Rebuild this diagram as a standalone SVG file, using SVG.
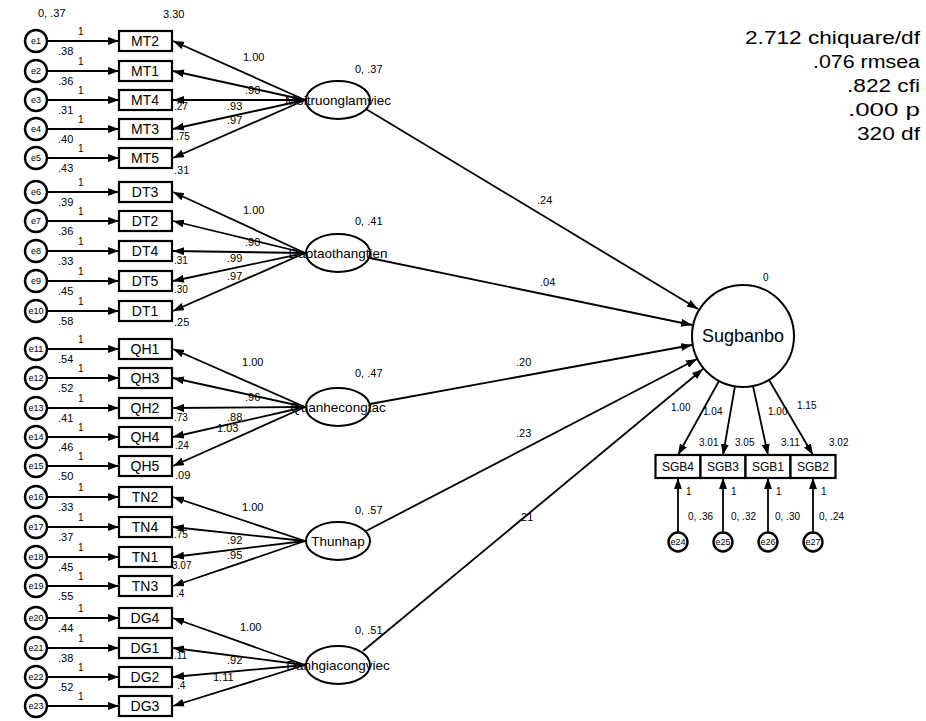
<svg xmlns="http://www.w3.org/2000/svg" width="926" height="721" viewBox="0 0 926 721">
<defs>
<marker id="ah" markerUnits="userSpaceOnUse" markerWidth="11" markerHeight="8" refX="11" refY="4" orient="auto"><path d="M0,0 L11,4 L0,8 z" fill="#000"/></marker>
<style>
text{font-family:"Liberation Sans",Arial,sans-serif;fill:#000}
.box{fill:#fff;stroke:#000;stroke-width:2.2}
.err{fill:#fff;stroke:#000;stroke-width:2.4}
.lat{fill:#fff;stroke:#000;stroke-width:2}
.ln{stroke:#000;stroke-width:1.8;fill:none;marker-end:url(#ah)}
.t{font-size:11px}
.s{font-size:10px}
.bx{font-size:14px;text-anchor:middle}
.e{font-size:9px;text-anchor:middle}
.lv{font-size:13.5px;text-anchor:middle}
.fit{font-size:18px;text-anchor:end}
</style>
</defs>
<rect width="926" height="721" fill="#fff"/>

<g id="fit">
<text class="fit" x="920" y="44" textLength="175" lengthAdjust="spacingAndGlyphs">2.712 chiquare/df</text>
<text class="fit" x="920" y="68" textLength="107" lengthAdjust="spacingAndGlyphs">.076 rmsea</text>
<text class="fit" x="920" y="92" textLength="73" lengthAdjust="spacingAndGlyphs">.822 cfi</text>
<text class="fit" x="920" y="116" textLength="72" lengthAdjust="spacingAndGlyphs">.000 p</text>
<text class="fit" x="920" y="140" textLength="63" lengthAdjust="spacingAndGlyphs">320 df</text>
</g>

<!-- error nodes -->
<g id="e1"><circle class="err" cx="36" cy="41" r="11"/><text class="e" x="36" y="44">e1</text></g>
<g id="e2"><circle class="err" cx="36" cy="71" r="11"/><text class="e" x="36" y="74">e2</text></g>
<g id="e3"><circle class="err" cx="36" cy="100" r="11"/><text class="e" x="36" y="103">e3</text></g>
<g id="e4"><circle class="err" cx="36" cy="129" r="11"/><text class="e" x="36" y="132">e4</text></g>
<g id="e5"><circle class="err" cx="36" cy="158" r="11"/><text class="e" x="36" y="161">e5</text></g>
<g id="e6"><circle class="err" cx="36" cy="192" r="11"/><text class="e" x="36" y="195">e6</text></g>
<g id="e7"><circle class="err" cx="36" cy="221" r="11"/><text class="e" x="36" y="224">e7</text></g>
<g id="e8"><circle class="err" cx="36" cy="251" r="11"/><text class="e" x="36" y="254">e8</text></g>
<g id="e9"><circle class="err" cx="36" cy="281" r="11"/><text class="e" x="36" y="284">e9</text></g>
<g id="e10"><circle class="err" cx="36" cy="311" r="11"/><text class="e" x="36" y="314">e10</text></g>
<g id="e11"><circle class="err" cx="36" cy="349" r="11"/><text class="e" x="36" y="352">e11</text></g>
<g id="e12"><circle class="err" cx="36" cy="378" r="11"/><text class="e" x="36" y="381">e12</text></g>
<g id="e13"><circle class="err" cx="36" cy="408" r="11"/><text class="e" x="36" y="411">e13</text></g>
<g id="e14"><circle class="err" cx="36" cy="437" r="11"/><text class="e" x="36" y="440">e14</text></g>
<g id="e15"><circle class="err" cx="36" cy="466" r="11"/><text class="e" x="36" y="469">e15</text></g>
<g id="e16"><circle class="err" cx="36" cy="497" r="11"/><text class="e" x="36" y="500">e16</text></g>
<g id="e17"><circle class="err" cx="36" cy="527" r="11"/><text class="e" x="36" y="530">e17</text></g>
<g id="e18"><circle class="err" cx="36" cy="557" r="11"/><text class="e" x="36" y="560">e18</text></g>
<g id="e19"><circle class="err" cx="36" cy="586" r="11"/><text class="e" x="36" y="589">e19</text></g>
<g id="e20"><circle class="err" cx="36" cy="618" r="11"/><text class="e" x="36" y="621">e20</text></g>
<g id="e21"><circle class="err" cx="36" cy="648" r="11"/><text class="e" x="36" y="651">e21</text></g>
<g id="e22"><circle class="err" cx="36" cy="677" r="11"/><text class="e" x="36" y="680">e22</text></g>
<g id="e23"><circle class="err" cx="36" cy="706" r="11"/><text class="e" x="36" y="709">e23</text></g>

<!-- indicator boxes -->
<g id="MT2"><rect class="box" x="119" y="31" width="53" height="20"/><text class="bx" x="145" y="46">MT2</text></g>
<g id="MT1"><rect class="box" x="119" y="61" width="53" height="20"/><text class="bx" x="145" y="76">MT1</text></g>
<g id="MT4"><rect class="box" x="119" y="90" width="53" height="20"/><text class="bx" x="145" y="105">MT4</text></g>
<g id="MT3"><rect class="box" x="119" y="119" width="53" height="20"/><text class="bx" x="145" y="134">MT3</text></g>
<g id="MT5"><rect class="box" x="119" y="148" width="53" height="20"/><text class="bx" x="145" y="163">MT5</text></g>
<g id="DT3"><rect class="box" x="119" y="182" width="53" height="20"/><text class="bx" x="145" y="197">DT3</text></g>
<g id="DT2"><rect class="box" x="119" y="211" width="53" height="20"/><text class="bx" x="145" y="226">DT2</text></g>
<g id="DT4"><rect class="box" x="119" y="241" width="53" height="20"/><text class="bx" x="145" y="256">DT4</text></g>
<g id="DT5"><rect class="box" x="119" y="271" width="53" height="20"/><text class="bx" x="145" y="286">DT5</text></g>
<g id="DT1"><rect class="box" x="119" y="301" width="53" height="20"/><text class="bx" x="145" y="316">DT1</text></g>
<g id="QH1"><rect class="box" x="119" y="339" width="53" height="20"/><text class="bx" x="145" y="354">QH1</text></g>
<g id="QH3"><rect class="box" x="119" y="368" width="53" height="20"/><text class="bx" x="145" y="383">QH3</text></g>
<g id="QH2"><rect class="box" x="119" y="398" width="53" height="20"/><text class="bx" x="145" y="413">QH2</text></g>
<g id="QH4"><rect class="box" x="119" y="427" width="53" height="20"/><text class="bx" x="145" y="442">QH4</text></g>
<g id="QH5"><rect class="box" x="119" y="456" width="53" height="20"/><text class="bx" x="145" y="471">QH5</text></g>
<g id="TN2"><rect class="box" x="119" y="487" width="53" height="20"/><text class="bx" x="145" y="502">TN2</text></g>
<g id="TN4"><rect class="box" x="119" y="517" width="53" height="20"/><text class="bx" x="145" y="532">TN4</text></g>
<g id="TN1"><rect class="box" x="119" y="547" width="53" height="20"/><text class="bx" x="145" y="562">TN1</text></g>
<g id="TN3"><rect class="box" x="119" y="576" width="53" height="20"/><text class="bx" x="145" y="591">TN3</text></g>
<g id="DG4"><rect class="box" x="119" y="608" width="53" height="20"/><text class="bx" x="145" y="623">DG4</text></g>
<g id="DG1"><rect class="box" x="119" y="638" width="53" height="20"/><text class="bx" x="145" y="653">DG1</text></g>
<g id="DG2"><rect class="box" x="119" y="667" width="53" height="20"/><text class="bx" x="145" y="682">DG2</text></g>
<g id="DG3"><rect class="box" x="119" y="696" width="53" height="20"/><text class="bx" x="145" y="711">DG3</text></g>

<!-- latent nodes -->
<g id="Moitruonglamviec"><ellipse class="lat" cx="338" cy="100" rx="32" ry="19"/><text class="lv" x="338" y="105">Moitruonglamviec</text></g>
<g id="Daotaothangtien"><ellipse class="lat" cx="338" cy="253" rx="32" ry="19"/><text class="lv" x="338" y="258">Daotaothangtien</text></g>
<g id="Quanhecongtac"><ellipse class="lat" cx="338" cy="407" rx="32" ry="19"/><text class="lv" x="338" y="412">Quanhecongtac</text></g>
<g id="Thunhap"><ellipse class="lat" cx="338" cy="541" rx="32" ry="19"/><text class="lv" x="338" y="546">Thunhap</text></g>
<g id="Danhgiacongviec"><ellipse class="lat" cx="338" cy="665" rx="32" ry="19"/><text class="lv" x="338" y="670">Danhgiacongviec</text></g>

<g id="Sugbanbo"><circle class="lat" cx="743" cy="336" r="51"/><text x="743" y="342" style="font-size:18px;text-anchor:middle">Sugbanbo</text></g>

<g id="SGB4"><rect class="box" x="655.5" y="455" width="45" height="23"/><text x="678" y="471" style="font-size:12px;text-anchor:middle">SGB4</text></g>
<g id="SGB3"><rect class="box" x="700.5" y="455" width="45" height="23"/><text x="723" y="471" style="font-size:12px;text-anchor:middle">SGB3</text></g>
<g id="SGB1"><rect class="box" x="745.5" y="455" width="45" height="23"/><text x="768" y="471" style="font-size:12px;text-anchor:middle">SGB1</text></g>
<g id="SGB2"><rect class="box" x="790.5" y="455" width="45" height="23"/><text x="813" y="471" style="font-size:12px;text-anchor:middle">SGB2</text></g>

<g id="e24"><circle class="err" cx="678" cy="542" r="9.5"/><text class="e" x="678" y="545">e24</text></g>
<g id="e25"><circle class="err" cx="723" cy="542" r="9.5"/><text class="e" x="723" y="545">e25</text></g>
<g id="e26"><circle class="err" cx="768" cy="542" r="9.5"/><text class="e" x="768" y="545">e26</text></g>
<g id="e27"><circle class="err" cx="813" cy="542" r="9.5"/><text class="e" x="813" y="545">e27</text></g>

<!-- connectors -->
<g id="connectors">
<line class="ln" x1="47" y1="41" x2="119" y2="41"/>
<line class="ln" x1="47" y1="71" x2="119" y2="71"/>
<line class="ln" x1="47" y1="100" x2="119" y2="100"/>
<line class="ln" x1="47" y1="129" x2="119" y2="129"/>
<line class="ln" x1="47" y1="158" x2="119" y2="158"/>
<line class="ln" x1="47" y1="192" x2="119" y2="192"/>
<line class="ln" x1="47" y1="221" x2="119" y2="221"/>
<line class="ln" x1="47" y1="251" x2="119" y2="251"/>
<line class="ln" x1="47" y1="281" x2="119" y2="281"/>
<line class="ln" x1="47" y1="311" x2="119" y2="311"/>
<line class="ln" x1="47" y1="349" x2="119" y2="349"/>
<line class="ln" x1="47" y1="378" x2="119" y2="378"/>
<line class="ln" x1="47" y1="408" x2="119" y2="408"/>
<line class="ln" x1="47" y1="437" x2="119" y2="437"/>
<line class="ln" x1="47" y1="466" x2="119" y2="466"/>
<line class="ln" x1="47" y1="497" x2="119" y2="497"/>
<line class="ln" x1="47" y1="527" x2="119" y2="527"/>
<line class="ln" x1="47" y1="557" x2="119" y2="557"/>
<line class="ln" x1="47" y1="586" x2="119" y2="586"/>
<line class="ln" x1="47" y1="618" x2="119" y2="618"/>
<line class="ln" x1="47" y1="648" x2="119" y2="648"/>
<line class="ln" x1="47" y1="677" x2="119" y2="677"/>
<line class="ln" x1="47" y1="706" x2="119" y2="706"/>

<line class="ln" x1="305" y1="100" x2="173" y2="41"/>
<line class="ln" x1="305" y1="100" x2="173" y2="71"/>
<line class="ln" x1="305" y1="100" x2="173" y2="100"/>
<line class="ln" x1="305" y1="100" x2="173" y2="129"/>
<line class="ln" x1="305" y1="100" x2="173" y2="158"/>
<line class="ln" x1="305" y1="253" x2="173" y2="192"/>
<line class="ln" x1="305" y1="253" x2="173" y2="221"/>
<line class="ln" x1="305" y1="253" x2="173" y2="251"/>
<line class="ln" x1="305" y1="253" x2="173" y2="281"/>
<line class="ln" x1="305" y1="253" x2="173" y2="311"/>
<line class="ln" x1="305" y1="407" x2="173" y2="349"/>
<line class="ln" x1="305" y1="407" x2="173" y2="378"/>
<line class="ln" x1="305" y1="407" x2="173" y2="408"/>
<line class="ln" x1="305" y1="407" x2="173" y2="437"/>
<line class="ln" x1="305" y1="407" x2="173" y2="466"/>
<line class="ln" x1="305" y1="541" x2="173" y2="497"/>
<line class="ln" x1="305" y1="541" x2="173" y2="527"/>
<line class="ln" x1="305" y1="541" x2="173" y2="557"/>
<line class="ln" x1="305" y1="541" x2="173" y2="586"/>
<line class="ln" x1="305" y1="665" x2="173" y2="618"/>
<line class="ln" x1="305" y1="665" x2="173" y2="648"/>
<line class="ln" x1="305" y1="665" x2="173" y2="677"/>
<line class="ln" x1="305" y1="665" x2="173" y2="706"/>

<line class="ln" x1="366" y1="109" x2="698" y2="309"/>
<line class="ln" x1="370" y1="258" x2="692" y2="325"/>
<line class="ln" x1="370" y1="404" x2="692" y2="345"/>
<line class="ln" x1="366" y1="531" x2="697" y2="359"/>
<line class="ln" x1="363" y1="651" x2="703" y2="369"/>

<line class="ln" x1="719" y1="381" x2="678" y2="455"/>
<line class="ln" x1="735" y1="386" x2="723" y2="455"/>
<line class="ln" x1="753" y1="386" x2="768" y2="455"/>
<line class="ln" x1="769" y1="380" x2="813" y2="455"/>

<line class="ln" x1="678" y1="532" x2="678" y2="478"/>
<line class="ln" x1="723" y1="532" x2="723" y2="478"/>
<line class="ln" x1="768" y1="532" x2="768" y2="478"/>
<line class="ln" x1="813" y1="532" x2="813" y2="478"/>
</g>

<!-- labels -->
<g id="labels">
<text class="t" x="38" y="17">0, .37</text>
<text class="t" x="163" y="18">3.30</text>
<text class="s" x="78" y="35">1</text>
<text class="s" x="78" y="65">1</text>
<text class="s" x="78" y="94">1</text>
<text class="s" x="78" y="123">1</text>
<text class="s" x="78" y="152">1</text>
<text class="s" x="78" y="186">1</text>
<text class="s" x="78" y="215">1</text>
<text class="s" x="78" y="245">1</text>
<text class="s" x="78" y="275">1</text>
<text class="s" x="78" y="305">1</text>
<text class="s" x="78" y="343">1</text>
<text class="s" x="78" y="372">1</text>
<text class="s" x="78" y="402">1</text>
<text class="s" x="78" y="431">1</text>
<text class="s" x="78" y="460">1</text>
<text class="s" x="78" y="491">1</text>
<text class="s" x="78" y="521">1</text>
<text class="s" x="78" y="551">1</text>
<text class="s" x="78" y="580">1</text>
<text class="s" x="78" y="612">1</text>
<text class="s" x="78" y="642">1</text>
<text class="s" x="78" y="671">1</text>
<text class="s" x="78" y="700">1</text>

<text class="t" x="58" y="55">.38</text>
<text class="t" x="58" y="85">.36</text>
<text class="t" x="58" y="114">.31</text>
<text class="t" x="58" y="143">.40</text>
<text class="t" x="58" y="172">.43</text>
<text class="t" x="58" y="206">.39</text>
<text class="t" x="58" y="235">.36</text>
<text class="t" x="58" y="265">.33</text>
<text class="t" x="58" y="295">.45</text>
<text class="t" x="58" y="325">.58</text>
<text class="t" x="58" y="363">.54</text>
<text class="t" x="58" y="392">.52</text>
<text class="t" x="58" y="422">.41</text>
<text class="t" x="58" y="451">.46</text>
<text class="t" x="58" y="480">.50</text>
<text class="t" x="58" y="511">.33</text>
<text class="t" x="58" y="541">.37</text>
<text class="t" x="58" y="571">.45</text>
<text class="t" x="58" y="600">.55</text>
<text class="t" x="58" y="632">.44</text>
<text class="t" x="58" y="662">.38</text>
<text class="t" x="58" y="691">.52</text>

<text class="s" x="174" y="110">.27</text>
<text class="s" x="176" y="140">.75</text>
<text class="t" x="174" y="174">.31</text>
<text class="s" x="174" y="264">.31</text>
<text class="s" x="174" y="293">.30</text>
<text class="t" x="174" y="326">.25</text>
<text class="s" x="174" y="421">.73</text>
<text class="s" x="175" y="449">.24</text>
<text class="t" x="175" y="479">.09</text>
<text class="s" x="174" y="538">.75</text>
<text class="s" x="172" y="569">3.07</text>
<text class="s" x="176" y="597">.4</text>
<text class="s" x="174" y="659">.11</text>
<text class="s" x="177" y="689">.4</text>

<text class="t" x="243" y="61">1.00</text>
<text class="t" x="245" y="94">.90</text>
<text class="t" x="227" y="110">.93</text>
<text class="t" x="227" y="124">.97</text>
<text class="t" x="243" y="214">1.00</text>
<text class="t" x="245" y="246">.90</text>
<text class="t" x="227" y="262">.99</text>
<text class="t" x="227" y="280">.97</text>
<text class="t" x="242" y="366">1.00</text>
<text class="t" x="245" y="401">.96</text>
<text class="t" x="227" y="421">.88</text>
<text class="t" x="217" y="432">1.03</text>
<text class="t" x="242" y="511">1.00</text>
<text class="t" x="227" y="544">.92</text>
<text class="t" x="227" y="559">.95</text>
<text class="t" x="240" y="631">1.00</text>
<text class="t" x="227" y="664">.92</text>
<text class="t" x="213" y="681">1.11</text>

<text class="t" x="355" y="73">0, .37</text>
<text class="t" x="355" y="225">0, .41</text>
<text class="t" x="355" y="377">0, .47</text>
<text class="t" x="355" y="514">0, .57</text>
<text class="t" x="355" y="634">0, .51</text>

<text class="t" x="537" y="204">.24</text>
<text class="t" x="540" y="286">.04</text>
<text class="t" x="516" y="366">.20</text>
<text class="t" x="516" y="437">.23</text>
<text class="t" x="518" y="521">.21</text>

<text class="s" x="763" y="281">0</text>
<text class="s" x="671" y="411">1.00</text>
<text class="s" x="703" y="415">1.04</text>
<text class="s" x="768" y="415">1.00</text>
<text class="s" x="797" y="409">1.15</text>
<text class="s" x="699" y="446">3.01</text>
<text class="s" x="735" y="446">3.05</text>
<text class="s" x="781" y="446">3.11</text>
<text class="s" x="829" y="446">3.02</text>
<text class="s" x="686" y="495">1</text>
<text class="s" x="731" y="495">1</text>
<text class="s" x="776" y="495">1</text>
<text class="s" x="821" y="495">1</text>
<text class="s" x="688" y="520">0, .36</text>
<text class="s" x="731" y="520">0, .32</text>
<text class="s" x="775" y="520">0, .30</text>
<text class="s" x="819" y="520">0, .24</text>
</g>
</svg>
